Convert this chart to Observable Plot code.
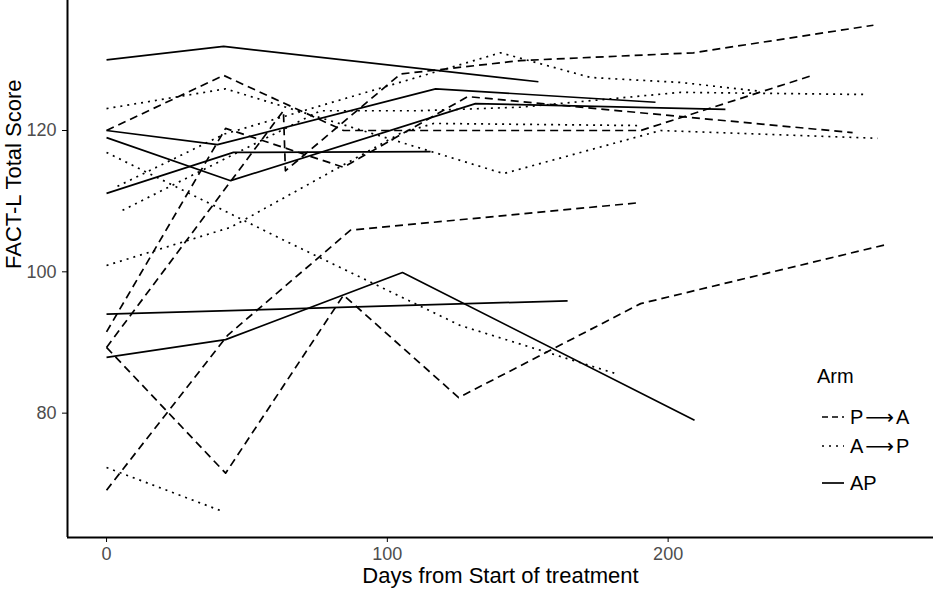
<!DOCTYPE html>
<html>
<head>
<meta charset="utf-8">
<script src="https://cdn.jsdelivr.net/npm/d3@7"></script>
<script src="https://cdn.jsdelivr.net/npm/@observablehq/plot@0.6"></script>
<style>
  body { margin: 0; background: #fff; font-family: "Liberation Sans", Arial, sans-serif; }
  #wrap { position: relative; width: 945px; height: 592px; overflow: hidden; }
  .lg { position: absolute; font-size: 20px; color: #000; line-height: 1; white-space: nowrap; }
  .row { position: absolute; left: 820px; height: 24px; display: flex; align-items: center; }
  .row svg { width: 28px; height: 24px; margin-right: 2px; }
  .row span { font-size: 20px; }
</style>
</head>
<body>
<div id="wrap"></div>
<script>
// Arms (legend order)
const armNames = ["P→A", "A→P", "AP"];
const lineStyles = { "P→A": "8,5", "A→P": "2,5", "AP": null };

// x / y tick values
const xTicks = [0, 100, 200];
const yTicks = [80, 100, 120];

// P→A (dashed) patients: [day, FACT-L score]
const pa1 = [[0, 120], [41.7, 127.8], [84.4, 120], [190.2, 120], [251.4, 127.8]];
const pa2 = [[0, 91.5], [42.4, 120.3], [84.4, 114.8], [128.6, 124.8], [265.7, 119.7]];
const pa3 = [[0, 89.3], [63, 122.8], [63.7, 114.3], [104.7, 128], [147.4, 129.9], [209, 131], [273.1, 134.9]];
const pa4 = [[0, 69.1], [43.1, 91], [86.9, 105.9], [190.2, 109.8]];
const pa5 = [[0, 89.3], [42.4, 71.5], [84.4, 96.7], [125.4, 82.2], [190.2, 95.5], [278.1, 103.9]];

// A→P (dotted) patients
const ap1 = [[0, 123.1], [42.4, 125.9], [141.4, 113.9], [197.3, 120.0], [274.6, 118.9]];
const ap2 = [[0, 72.3], [41.3, 66.1]];
const ap3 = [[0, 116.9], [63, 104.5], [126, 92.4], [181.3, 85.6]];
const ap4 = [[0, 100.9], [44.2, 106.3], [104.7, 119.6], [116.5, 121], [190.2, 120.7]];
const ap5 = [[3.9, 112.1], [42, 119.5], [140.3, 131.0], [172.4, 127.5], [204.4, 126.8], [231.8, 125.6]];
const ap6 = [[5.7, 108.7], [76.2, 122.8], [111.8, 122.8], [147.4, 123.3], [204.4, 125.4], [269.6, 125.1]];

// AP (solid) patients
const s1 = [[0, 130], [41.7, 131.9], [153.8, 126.9]];
const s2 = [[0, 120], [39.5, 118], [117.2, 125.9], [195.5, 124.0]];
const s3 = [[0, 119], [44.2, 112.9], [131.4, 123.8], [220.4, 123.0]];
const s4 = [[0, 111.1], [45.2, 116.9], [115.4, 117.0]];
const s5 = [[0, 94], [164.2, 95.9]];
const s6 = [[0, 87.9], [42.4, 90.4], [105.4, 99.9], [209.4, 79.0]];

const groups = [
  ["P→A", [pa1, pa2, pa3, pa4, pa5]],
  ["A→P", [ap1, ap2, ap3, ap4, ap5, ap6]],
  ["AP", [s1, s2, s3, s4, s5, s6]]
];

const rows = [];
groups.forEach(([arm, pts]) => {
  pts.forEach((series, i) => {
    series.forEach(([day, score]) => rows.push({ arm, id: arm + i, day, score }));
  });
});

const xDomain = [-13.9, 294.5];
const yDomain = [62.4, 138.4];

const lineMarks = armNames.map(arm =>
  Plot.line(rows.filter(d => d.arm === arm), {
    x: "day", y: "score", z: "id",
    stroke: "black", strokeWidth: 1.7,
    strokeDasharray: lineStyles[arm] || undefined,
    strokeLinecap: "butt", strokeLinejoin: "round"
  })
);

const chart = Plot.plot({
  width: 945, height: 592,
  marginLeft: 67, marginRight: 12, marginTop: 0, marginBottom: 55,
  x: { domain: xDomain },
  y: { domain: yDomain },
  style: { fontFamily: "Liberation Sans, Arial, sans-serif", background: "white", overflow: "visible" },
  marks: [
    Plot.axisX({ ticks: xTicks, tickSize: 5, tickFormat: () => "", label: null, stroke: "black" }),
    Plot.axisY({ ticks: yTicks, tickSize: 5, tickFormat: () => "", label: null, stroke: "black" }),
    Plot.text(xTicks, { x: d => d, y: yDomain[0], dy: 17, text: d => String(d), fontSize: 18, fill: "#4d4d4d" }),
    Plot.text(yTicks, { x: xDomain[0], y: d => d, dx: -11, text: d => String(d), textAnchor: "end", fontSize: 18, fill: "#4d4d4d" }),
    ...lineMarks,
    Plot.ruleX([xDomain[0]], { stroke: "black", strokeWidth: 2 }),
    Plot.ruleY([yDomain[0]], { stroke: "black", strokeWidth: 2 }),
    Plot.text(["Days from Start of treatment"], { frameAnchor: "bottom", dy: 45, fontSize: 22, fill: "black" }),
    Plot.text(["FACT-L Total Score"], { frameAnchor: "left", dx: -54, rotate: -90, fontSize: 22, fill: "black" })
  ]
});

const wrap = document.getElementById("wrap");
wrap.appendChild(chart);

// Legend
const title = document.createElement("div");
title.className = "lg";
title.style.left = "817px";
title.style.top = "366px";
title.textContent = "Arm";
wrap.appendChild(title);

const rowCenters = [417, 446, 483];
armNames.forEach((arm, i) => {
  const r = document.createElement("div");
  r.className = "row";
  r.style.top = (rowCenters[i] - 12) + "px";
  const dash = lineStyles[arm];
  r.innerHTML = `<svg viewBox="0 0 28 24"><line x1="2" x2="24" y1="12" y2="12" stroke="black" stroke-width="1.7" ${dash ? `stroke-dasharray="${dash === "8,5" ? "6,4" : dash}"` : ""}/></svg><span>${arm.replace("→", "<span style='font-family:DejaVu Sans;font-size:20px;margin:0 2px'>⟶</span>")}</span>`;
  wrap.appendChild(r);
});
</script>
</body>
</html>
